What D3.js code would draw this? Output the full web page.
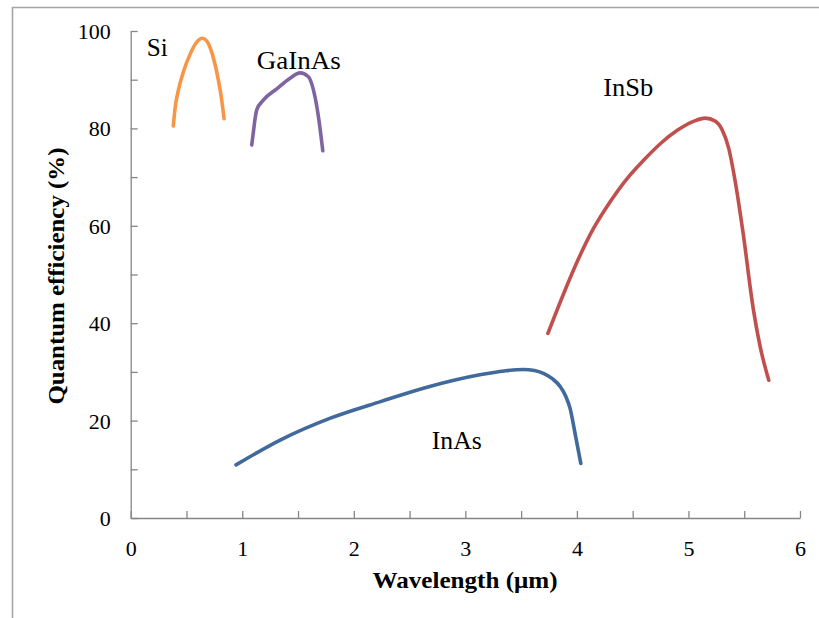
<!DOCTYPE html>
<html>
<head>
<meta charset="utf-8">
<script src="https://cdn.jsdelivr.net/npm/d3@7/dist/d3.min.js"></script>
<style>
  html, body { margin: 0; padding: 0; background: #fff; }
  svg { display: block; }
  text { font-family: "Liberation Serif", "Times New Roman", serif; fill: #000; }
</style>
</head>
<body>
<svg id="chart" width="819" height="618"></svg>
<script>
// ---- data ----
const siX = [0.382, 0.397, 0.427, 0.472, 0.532, 0.592, 0.642, 0.696, 0.741, 0.786, 0.816, 0.837];
const siY = [80.5, 84.0, 87.8, 91.6, 95.2, 97.7, 98.5, 97.4, 94.5, 89.9, 85.8, 82.0];

const gaX = [1.085, 1.100, 1.115, 1.130, 1.189, 1.309, 1.429, 1.518, 1.593, 1.638, 1.683, 1.722];
const gaY = [76.6, 79.3, 82.0, 83.8, 85.8, 88.1, 90.3, 91.4, 90.6, 87.9, 82.4, 75.4];

const insbX = [3.74, 3.88, 4.00, 4.15, 4.30, 4.45, 4.60, 4.75, 4.90, 5.05, 5.15, 5.24, 5.30, 5.36, 5.42, 5.49, 5.58, 5.64, 5.72];
const insbY = [37.9, 46.0, 52.5, 59.5, 65.0, 69.7, 73.5, 76.9, 79.6, 81.5, 82.1, 81.5, 79.8, 76.0, 69.0, 58.5, 43.1, 35.5, 28.3];

const inasX = [0.944, 1.34, 1.79, 2.24, 2.68, 3.13, 3.35, 3.52, 3.62, 3.70, 3.78, 3.85, 3.90, 3.94, 3.98, 4.035];
const inasY = [10.9, 16.0, 20.5, 23.9, 27.0, 29.4, 30.2, 30.5, 30.3, 29.7, 28.6, 27.0, 25.0, 22.4, 17.8, 11.2];

const seriesNames = ["Si", "GaInAs", "InSb", "InAs"];
const seriesColors = ["#F79646", "#8064A2", "#C0504D", "#41699B"];
const labelX = [0.143, 1.130, 4.236, 2.699];
const labelY = [94.8, 92.2, 86.6, 14.2];

const xTicks = [0, 0.5, 1, 1.5, 2, 2.5, 3, 3.5, 4, 4.5, 5, 5.5, 6];
const yTicks = [0, 10, 20, 30, 40, 50, 60, 70, 80, 90, 100];
const xTitle = "Wavelength (\u03bcm)";
const yTitle = "Quantum efficiency (%)";

// ---- drawing ----
const svg = d3.select("#chart");
const x = d3.scaleLinear().domain([0, 6]).range([130.7, 800]);
const y = d3.scaleLinear().domain([0, 100]).range([518, 31]);

// outer frame (left + top)
svg.append("path")
  .attr("d", "M12.5,618 L12.5,7.5 L819,7.5")
  .attr("fill", "none").attr("stroke", "#a5a5a5").attr("stroke-width", 1.6);

const axisColor = "#868686";

const gx = svg.append("g").attr("transform", `translate(0,${y(0)})`)
  .call(d3.axisBottom(x).tickValues(xTicks).tickSize(-7).tickSizeOuter(0).tickPadding(22)
    .tickFormat(d => Number.isInteger(d) ? d3.format("d")(d) : ""));
const gy = svg.append("g").attr("transform", `translate(${x(0)},0)`)
  .call(d3.axisLeft(y).tickValues(yTicks).tickSize(-7).tickSizeOuter(0).tickPadding(20)
    .tickFormat(d => d % 20 === 0 ? d3.format("d")(d) : ""));

[gx, gy].forEach(g => {
  g.select(".domain").attr("stroke", axisColor).attr("stroke-width", 1.3);
  g.selectAll(".tick line").attr("stroke", axisColor).attr("stroke-width", 1.3);
  g.selectAll(".tick text")
    .attr("font-family", "'Liberation Serif', 'Times New Roman', serif")
    .attr("font-size", 22).attr("fill", "#000");
});
gy.selectAll(".tick text").attr("dy", "0.34em");

// series
const allX = [siX, gaX, insbX, inasX];
const allY = [siY, gaY, insbY, inasY];
const line = d3.line()
  .x(d => x(d[0])).y(d => y(d[1]))
  .curve(d3.curveMonotoneX);

allX.forEach((xs, i) => {
  const pts = xs.map((v, j) => [v, allY[i][j]]);
  svg.append("path")
    .datum(pts)
    .attr("d", line)
    .attr("fill", "none")
    .attr("stroke", seriesColors[i])
    .attr("stroke-width", 3.6)
    .attr("stroke-linecap", "round")
    .attr("stroke-linejoin", "round");
});

// series labels
const labelWidths = [21, 84, 50, 50];
seriesNames.forEach((n, i) => {
  svg.append("text")
    .attr("x", x(labelX[i])).attr("y", y(labelY[i]))
    .attr("font-size", 25)
    .attr("textLength", labelWidths[i])
    .attr("lengthAdjust", "spacingAndGlyphs")
    .text(n);
});

// axis titles
svg.append("text")
  .attr("x", 465).attr("y", 588)
  .attr("text-anchor", "middle")
  .attr("font-size", 24).attr("font-weight", "bold")
  .attr("textLength", 185).attr("lengthAdjust", "spacingAndGlyphs")
  .text(xTitle);

svg.append("text")
  .attr("transform", "translate(64,276) rotate(-90)")
  .attr("text-anchor", "middle")
  .attr("font-size", 24).attr("font-weight", "bold")
  .attr("textLength", 257).attr("lengthAdjust", "spacingAndGlyphs")
  .text(yTitle);
</script>
</body>
</html>
